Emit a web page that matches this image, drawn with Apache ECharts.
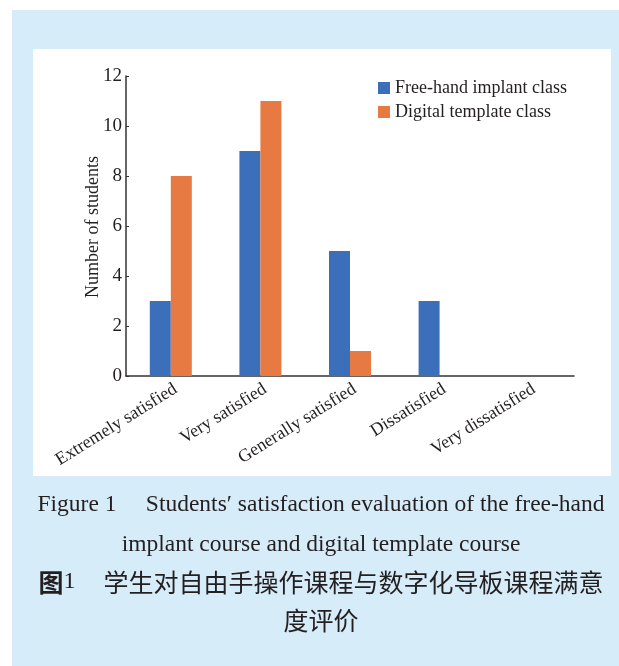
<!DOCTYPE html>
<html>
<head>
<meta charset="utf-8">
<script src="https://cdn.jsdelivr.net/npm/echarts@6/dist/echarts.min.js"></script>
<style>
  html, body { margin: 0; padding: 0; background: #fff; }
  #main { width: 619px; height: 666px; }
</style>
</head>
<body>
<div id="main"></div>
<script>
var categories = ['Extremely satisfied', 'Very satisfied', 'Generally satisfied', 'Dissatisfied', 'Very dissatisfied'];
var freeHand = [3, 9, 5, 3, 0];
var digital = [8, 11, 1, 0, 0];
var seriesNames = ['Free-hand implant class', 'Digital template class'];
var yTicks = [0, 12, 2]; // min, max, interval
var yName = 'Number of students';

var serif = '"Liberation Serif", "DejaVu Serif", serif';
var cjk = '"Noto Sans CJK SC", sans-serif';

var myChart = echarts.init(document.getElementById('main'));

// caption line helper
function captionLine(y, text, font, rich) {
    return {
        type: 'text', x: 321, y: y,
        style: {
            text: text, font: font, fill: '#231f20',
            align: 'center', verticalAlign: 'middle',
            rich: rich
        }
    };
}

var option = {
    animation: false,
    backgroundColor: '#fff',
    graphic: [
        // blue page background
        { type: 'rect', z: -10, shape: { x: 12, y: 10, width: 607, height: 656 }, style: { fill: '#d6ecf9' } },
        // white chart panel
        { type: 'rect', z: -9, shape: { x: 33, y: 49, width: 578, height: 427 }, style: { fill: '#fff' } },
        // y axis title (placed by hand, axis name would be pushed too far left)
        { type: 'text', x: 93, y: 227, rotation: Math.PI / 2,
          style: { text: yName, font: '18px ' + serif, fill: '#231f20', align: 'center', verticalAlign: 'middle' } },
        captionLine(505, 'Figure 1     Students\u2032 satisfaction evaluation of the free-hand', '23.5px ' + serif),
        captionLine(545, 'implant course and digital template course', '23.5px ' + serif),
        captionLine(582, '{b|图}{n|1}     学生对自由手操作课程与数字化导板课程满意', '25px ' + cjk, {
            b: { fontFamily: cjk, fontWeight: 'bold', fontSize: 25, fill: '#231f20' },
            n: { fontFamily: serif, fontSize: 24, fill: '#231f20' }
        }),
        captionLine(620, '度评价', '25px ' + cjk)
    ],
    legend: {
        data: seriesNames,
        orient: 'vertical',
        left: 373,
        top: 74,
        itemWidth: 12,
        itemHeight: 12,
        itemGap: 6,
        icon: 'rect',
        textStyle: { fontFamily: serif, fontSize: 18, color: '#231f20' }
    },
    grid: {
        left: 126,
        right: 45,
        top: 76,
        bottom: 290
    },
    xAxis: {
        type: 'category',
        data: categories,
        axisLine: { lineStyle: { color: '#333', width: 1.5 } },
        axisTick: { show: false },
        axisLabel: {
            rotate: 32,
            interval: 0,
            margin: 4,
            verticalAlign: 'top',
            fontFamily: serif,
            fontSize: 18,
            color: '#231f20'
        }
    },
    yAxis: {
        type: 'value',
        min: yTicks[0],
        max: yTicks[1],
        interval: yTicks[2],
        axisLine: { show: true, lineStyle: { color: '#333', width: 1.5 } },
        axisTick: { show: true, inside: true, length: 3, lineStyle: { color: '#333' } },
        splitLine: { show: false },
        axisLabel: { margin: 4, fontFamily: serif, fontSize: 19, color: '#231f20' }
    },
    series: [
        {
            name: seriesNames[0],
            type: 'bar',
            data: freeHand,
            barWidth: 21,
            barGap: '0%',
            itemStyle: { color: '#3b6fba' }
        },
        {
            name: seriesNames[1],
            type: 'bar',
            data: digital,
            barWidth: 21,
            barGap: '0%',
            itemStyle: { color: '#e67a42' }
        }
    ]
};

myChart.setOption(option);
</script>
</body>
</html>
